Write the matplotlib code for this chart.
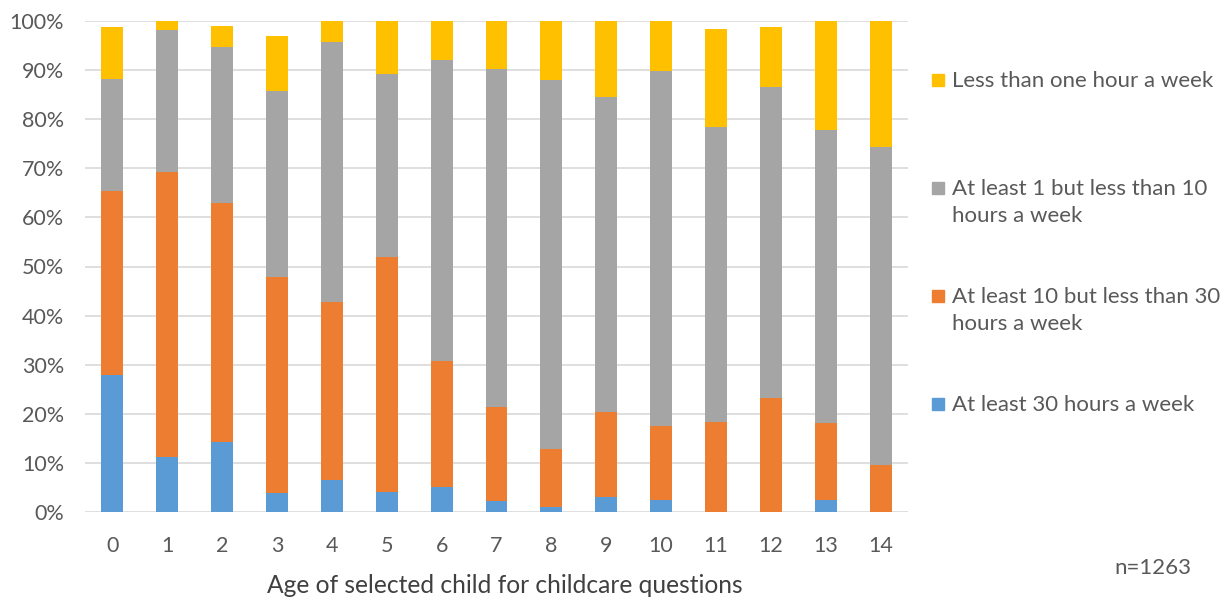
import matplotlib.pyplot as plt
import numpy as np
from matplotlib.patches import Rectangle

plt.rcParams['font.family'] = ['Lato', 'DejaVu Sans']

# Age of the selected child
ages = [str(a) for a in range(15)]

# Share of children (%) in each weekly childcare band, bottom to top of each bar
at_least_30 = [27.9, 11.3, 14.2, 3.8, 6.6, 4.0, 5.0, 2.2, 1.1, 3.0, 2.4, 0.0, 0.0, 2.4, 0.0]
ten_to_30 = [37.4, 57.9, 48.7, 44.1, 36.2, 48.0, 25.8, 19.2, 11.7, 17.4, 15.2, 18.4, 23.3, 15.7, 9.5]
one_to_10 = [22.9, 29.0, 31.8, 37.8, 53.0, 37.3, 61.3, 68.9, 75.1, 64.1, 72.2, 60.0, 63.2, 59.7, 64.9]
under_one = [10.5, 1.8, 4.2, 11.2, 4.2, 10.7, 7.9, 9.7, 12.1, 15.5, 10.2, 20.0, 12.2, 22.2, 25.6]

series = [
    ("At least 30 hours a week", at_least_30, "#5B9BD5"),
    ("At least 10 but less than 30\nhours a week", ten_to_30, "#ED7D31"),
    ("At least 1 but less than 10\nhours a week", one_to_10, "#A5A5A5"),
    ("Less than one hour a week", under_one, "#FFC000"),
]

text_col = "#595959"
fs = 15.5
legend_fs = 16

fig = plt.figure(figsize=(12.29, 6.01), dpi=100)
ax = fig.add_axes([85 / 1229, 89 / 601, 823 / 1229, 491 / 601])

x = np.arange(len(ages))
bottom = np.zeros(len(ages))
for label, vals, col in series:
    vals = np.array(vals)
    ax.bar(x, vals, 0.4, bottom=bottom, color=col, zorder=3)
    bottom += vals

ax.set_xlim(-0.5, len(ages) - 0.5)
ax.set_ylim(0, 100)
ax.set_yticks(np.arange(0, 101, 10))
ax.set_yticklabels([f"{v}%" for v in range(0, 101, 10)])
ax.set_xticks(x)
ax.set_xticklabels(ages)
ax.grid(axis='y', color='#d9d9d9', linewidth=1.2, zorder=0)
for s in ax.spines.values():
    s.set_visible(False)
ax.tick_params(length=0, labelsize=fs, labelcolor=text_col)
ax.tick_params(axis='x', pad=17)
ax.tick_params(axis='y', pad=15)
ax.set_xlabel("Age of selected child for childcare questions", fontsize=17.7,
              color="#404040")
ax.xaxis.set_label_coords(0.51, -0.126)

# legend, top entry first
legend_items = series[::-1]
for i, (label, vals, col) in enumerate(legend_items):
    y = 80 + i * 108
    fig.patches.append(Rectangle((932 / 1229, 1 - (y + 6) / 601), 12 / 1229, 12 / 601,
                                 transform=fig.transFigure, color=col))
    fig.text(952 / 1229, 1 - (y - 9) / 601, label, fontsize=legend_fs, color=text_col,
             va='top', ha='left', linespacing=1.45)

fig.text(1153 / 1229, 1 - 568 / 601, "n=1263", fontsize=16, color=text_col,
         ha='center', va='center')

fig.savefig("out.png", dpi=100)
